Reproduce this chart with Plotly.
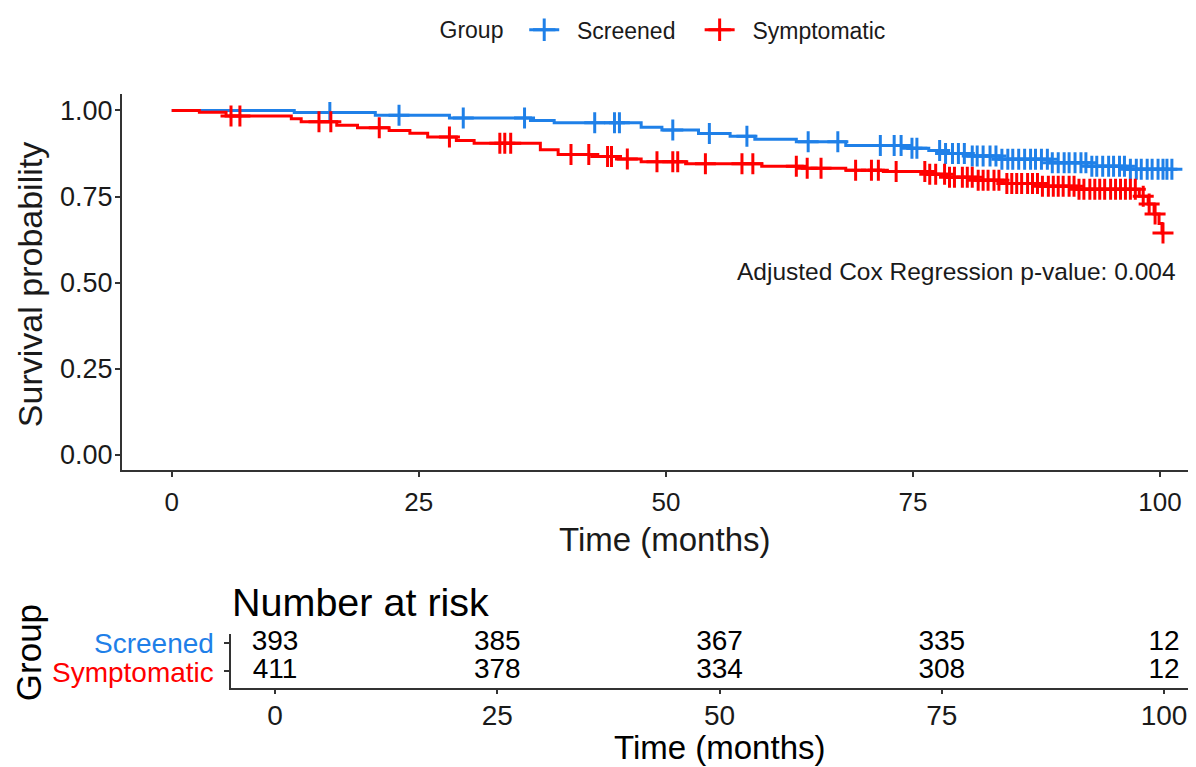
import numpy as np
import plotly.graph_objects as go

# ---------------- data ----------------
groups = ["Screened", "Symptomatic"]

scr_times = [0, 12.4, 20.6, 28.1, 36.3, 38.7, 47.5, 49.6, 53.3, 56.5, 59.0, 63.2, 68.2,
             74.5, 76.6, 78.0, 80.5, 83.8, 88.9, 92.6, 96.5]
scr_surv = [1.0, 0.994, 0.986, 0.978, 0.971, 0.964, 0.951, 0.943, 0.933, 0.925, 0.916,
            0.909, 0.898, 0.890, 0.884, 0.875, 0.868, 0.858, 0.848, 0.838, 0.829]
scr_end = 101.2
scr_censor = [16.0, 23.0, 29.5, 35.7, 42.8, 44.8, 45.3, 50.7, 54.4, 58.2, 64.4, 67.4,
              71.7, 73.1, 73.8, 74.9, 75.4, 77.7, 78.3, 79.0, 79.6, 80.2, 81.0, 81.5,
              82.1, 82.8, 83.4, 84.0, 84.6, 85.1, 85.7, 86.3, 86.9, 87.4, 88.0, 88.6,
              89.1, 89.7, 90.3, 90.8, 91.4, 92.0, 92.5, 93.1, 93.6, 94.2, 94.8, 95.3,
              95.9, 96.4, 97.0, 97.6, 98.1, 98.7, 99.2, 99.8, 100.3, 100.7, 101.2]

sym_times = [0, 2.8, 5.5, 12.1, 13.1, 16.7, 18.8, 22.0, 24.1, 25.9, 28.8, 30.6, 37.3,
             39.1, 42.5, 45.0, 47.5, 52.0, 59.7, 63.8, 68.2, 72.0, 76.5, 78.5, 81.4,
             84.5, 88.0, 91.6, 97.9, 98.8, 99.4, 99.9, 100.2]
sym_surv = [1.0, 0.995, 0.984, 0.976, 0.967, 0.957, 0.950, 0.942, 0.934, 0.923, 0.913,
            0.905, 0.886, 0.872, 0.866, 0.859, 0.851, 0.845, 0.838, 0.832, 0.826, 0.823,
            0.815, 0.806, 0.797, 0.788, 0.780, 0.771, 0.751, 0.728, 0.699, 0.672, 0.644]
sym_end = 100.3
sym_censor = [6.0, 6.9, 14.9, 16.1, 21.0, 28.1, 33.2, 33.7, 34.3, 40.4, 42.2, 44.1, 44.5,
              46.1, 49.1, 50.7, 51.2, 54.0, 57.7, 58.8, 63.2, 64.3, 65.7, 69.2, 70.8,
              71.5, 73.3, 76.2, 76.7, 77.3, 78.2, 78.7, 79.2, 80.0, 80.5, 81.0, 81.6,
              82.1, 82.6, 83.2, 83.7, 84.5, 85.0, 85.5, 86.0, 86.6, 87.1, 87.6, 88.1,
              88.7, 89.2, 89.7, 90.2, 90.8, 91.3, 91.8, 92.3, 92.9, 93.4, 93.9, 94.4,
              95.0, 95.5, 96.0, 96.5, 97.0, 97.5, 98.3, 98.9, 99.5, 100.3]

risk_times = [0, 25, 50, 75, 100]
risk_screened = [393, 385, 367, 335, 12]
risk_symptomatic = [411, 378, 334, 308, 12]

x_ticks = [0, 25, 50, 75, 100]
y_ticks = [0, 0.25, 0.5, 0.75, 1.0]
y_ticktext = ["0.00", "0.25", "0.50", "0.75", "1.00"]

pvalue_text = "Adjusted Cox Regression p-value: 0.004"

# ---------------- style ----------------
BLUE = "#1F80E8"
RED = "#FF0000"
OFF = 8  # page body margin
W, H = 1196 - OFF, 767 - OFF
FONT = "Liberation Sans, Arial, sans-serif"
TXT = "#1a1a1a"
AX = "#333333"
NB = "\u00a0"


def px_x(p):
    return (p - OFF) / W


def px_y(p):
    return 1 - (p - OFF) / H


def step_lookup(times, surv, t):
    idx = np.searchsorted(np.array(times), np.array(t), side="right") - 1
    return list(np.array(surv)[idx])


fig = go.Figure()

series = [
    ("Screened", BLUE, scr_times, scr_surv, scr_end, scr_censor, 3),
    ("Symptomatic", RED, sym_times, sym_surv, sym_end, sym_censor, 0),
]

for name, col, tt, ss, end, cens, pad in series:
    fig.add_trace(go.Scatter(
        x=tt + [end], y=ss + [ss[-1]], mode="lines", line=dict(color=col, width=3, shape="hv"),
        showlegend=False, hoverinfo="skip", xaxis="x", yaxis="y"))
    fig.add_trace(go.Scatter(
        x=cens, y=step_lookup(tt, ss, cens), mode="markers",
        marker=dict(symbol="cross-thin", size=15, line=dict(width=3, color=col), color=col),
        showlegend=False, hoverinfo="skip", xaxis="x", yaxis="y"))
    # legend entry
    fig.add_trace(go.Scatter(
        x=[None], y=[None], mode="lines+markers", name=NB * 2 + name + NB * pad,
        line=dict(color=col, width=3),
        marker=dict(symbol="cross-thin", size=16, line=dict(width=3, color=col), color=col),
        xaxis="x", yaxis="y"))

# risk table numbers
for vals, row in ((risk_screened, 2), (risk_symptomatic, 1)):
    fig.add_trace(go.Scatter(
        x=risk_times, y=[row] * len(risk_times), text=[str(v) for v in vals],
        mode="text", textfont=dict(size=28, color="black", family=FONT), cliponaxis=False,
        showlegend=False, hoverinfo="skip", xaxis="x2", yaxis="y2"))

axis_common = dict(showline=True, linecolor=AX, linewidth=1.5, ticks="outside",
                   tickcolor=AX, ticklen=5, tickwidth=1.5, showgrid=False, zeroline=False,
                   automargin=False)

fig.update_layout(
    width=W, height=H,
    margin=dict(l=0, r=0, t=0, b=0),
    plot_bgcolor="white", paper_bgcolor="white",
    font=dict(family=FONT, color=TXT),
    xaxis=dict(domain=[px_x(121.7), 1.0], range=[-5.06, 103.64], tickvals=x_ticks,
               tickfont=dict(size=26, color=TXT), anchor="y", ticklabelstandoff=3,
               **axis_common),
    yaxis=dict(domain=[px_y(467.3), px_y(86.7)], range=[-0.045, 1.048], tickvals=y_ticks,
               ticktext=y_ticktext, tickfont=dict(size=27, color=TXT), anchor="x",
               ticklabelstandoff=-3, **axis_common),
    xaxis2=dict(domain=[px_x(231), 1.0], range=[-4.95, 103.6], tickvals=x_ticks,
                tickfont=dict(size=28, color=TXT), anchor="y2", ticklabelstandoff=-3,
                **axis_common),
    yaxis2=dict(domain=[px_y(686.7), px_y(633)], range=[0.44, 2.29], tickvals=[1, 2],
                showticklabels=False, anchor="x2", **axis_common),
    legend=dict(orientation="h", x=px_x(664), xanchor="center", y=px_y(22), yanchor="middle",
                title=dict(text="Group" + NB * 2, font=dict(size=23, color=TXT)),
                font=dict(size=23, color=TXT), bgcolor="rgba(0,0,0,0)"),
    showlegend=True,
)

annotations = [
    dict(text=pvalue_text, x=px_x(1178), y=px_y(266), xanchor="right", yanchor="middle",
         font=dict(size=24.5, color=TXT)),
    dict(text="Survival probability", x=px_x(30), y=px_y(280), textangle=-90,
         xanchor="center", yanchor="middle", font=dict(size=34, color=TXT)),
    dict(text="Time (months)", x=px_x(664), y=px_y(537), xanchor="center", yanchor="middle",
         font=dict(size=33, color=TXT)),
    dict(text="Number at risk", x=px_x(230), y=px_y(600), xanchor="left", yanchor="middle",
         font=dict(size=39.5, color="black")),
    dict(text="Screened", x=px_x(216), y=px_y(642), xanchor="right", yanchor="middle",
         font=dict(size=28, color=BLUE)),
    dict(text="Symptomatic", x=px_x(216), y=px_y(671), xanchor="right", yanchor="middle",
         font=dict(size=28, color=RED)),
    dict(text="Group", x=px_x(28), y=px_y(652), textangle=-90, xanchor="center",
         yanchor="middle", font=dict(size=35, color="black")),
    dict(text="Time (months)", x=px_x(719), y=px_y(747), xanchor="center", yanchor="middle",
         font=dict(size=33, color="black")),
]
for a in annotations:
    a.update(xref="paper", yref="paper", showarrow=False)
fig.update_layout(annotations=annotations)

fig.write_html("out.html")
